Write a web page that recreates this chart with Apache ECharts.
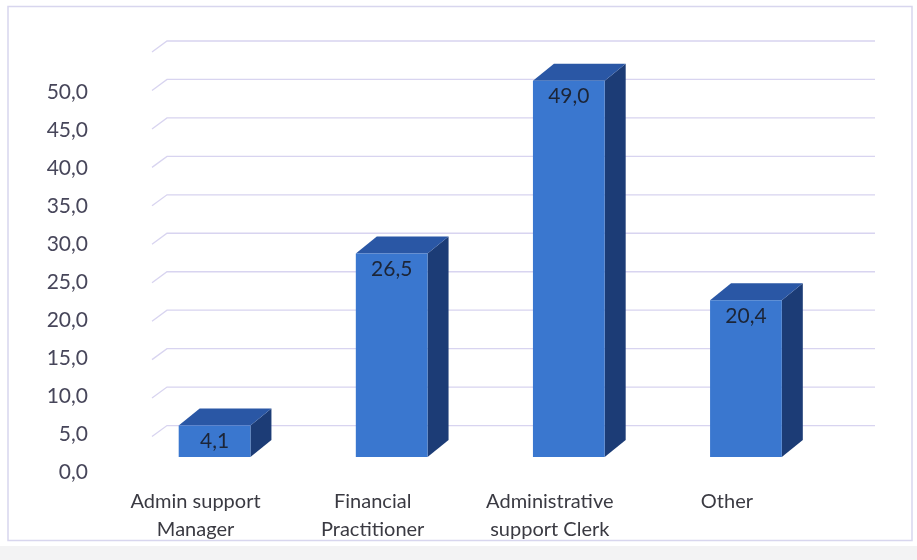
<!DOCTYPE html>
<html>
<head>
<meta charset="utf-8">
<script src="https://cdn.jsdelivr.net/npm/echarts@6/dist/echarts.min.js"></script>
<style>
  html, body { margin: 0; padding: 0; background: #ffffff; }
  #chart { width: 917px; height: 560px; }
</style>
</head>
<body>
<div id="chart"></div>
<script>
// Job categories and their shares (%)
const categories = ['Admin support\nManager', 'Financial\nPractitioner', 'Administrative\nsupport Clerk', 'Other'];
const shares = [4.1, 26.5, 49.0, 20.4];

// Back-wall gridline values and the value-axis tick labels
const wallTicks = [5, 10, 15, 20, 25, 30, 35, 40, 45, 50, 55];
const tickLabels = ['0,0', '5,0', '10,0', '15,0', '20,0', '25,0', '30,0', '35,0', '40,0', '45,0', '50,0'];

const FONT = 'Lato, "Open Sans", sans-serif';
const fmt = v => v.toFixed(1).replace('.', ',');

// 3D extrusion offsets
const DEPTH_X = 21, DEPTH_Y = -17;
const WALL_X = 15, WALL_Y = -11;

const chart = echarts.init(document.getElementById('chart'), null, { renderer: 'canvas' });

const option = {
  animation: false,
  backgroundColor: '#ffffff',
  grid: [
    // back wall
    { left: 167, right: 42, top: 41, bottom: 96 },
    // value-axis labels
    { left: 100, right: 780, top: 92, bottom: 88 },
    // bars (front plane)
    { left: 126, right: 82.5, top: 34.6, bottom: 103 }
  ],
  xAxis: [
    { gridIndex: 0, type: 'value', min: 0, max: 1, show: false },
    { gridIndex: 1, type: 'value', min: 0, max: 1, show: false },
    {
      gridIndex: 2, type: 'category', data: categories,
      axisLine: { show: false }, axisTick: { show: false },
      axisLabel: {
        margin: 31, fontSize: 20, lineHeight: 28, color: '#3a3a42',
        fontFamily: FONT, padding: [0, 38, 0, 0], interval: 0
      }
    }
  ],
  yAxis: [
    { gridIndex: 0, type: 'value', min: 0, max: 55, interval: 5, show: false },
    {
      gridIndex: 1, type: 'category', data: tickLabels, boundaryGap: false,
      axisLine: { show: false }, axisTick: { show: false }, splitLine: { show: false },
      axisLabel: { margin: 12, fontSize: 21, color: '#47465a', fontFamily: FONT }
    },
    { gridIndex: 2, type: 'value', min: 0, max: 55, interval: 5, show: false }
  ],
  graphic: [
    { type: 'rect', z: -10, shape: { x: 0, y: 546, width: 917, height: 14 }, style: { fill: '#f3f3f4' } },
    { type: 'rect', z: -9, shape: { x: 8, y: 6.5, width: 904, height: 534 }, style: { fill: null, stroke: '#d8d6ee', lineWidth: 1.5 } }
  ],
  series: [
    {
      type: 'custom', xAxisIndex: 0, yAxisIndex: 0, silent: true,
      data: wallTicks.map(v => [0, v]),
      renderItem: (params, api) => {
        const v = api.value(1);
        const a = api.coord([0, v]);
        const b = api.coord([1, v]);
        return {
          type: 'polyline',
          shape: { points: [[a[0] - WALL_X, a[1] - WALL_Y], a, b] },
          style: { stroke: '#d8d4f0', lineWidth: 1.3, fill: null }
        };
      }
    },
    {
      type: 'custom', xAxisIndex: 2, yAxisIndex: 2, silent: true,
      data: shares.map((v, i) => [i, v]),
      renderItem: (params, api) => {
        const i = api.value(0), v = api.value(1);
        const top = api.coord([i, v]);
        const base = api.coord([i, 0]);
        const w = api.size([1, 0])[0] * 0.405;
        const x0 = top[0] - w / 2, x1 = top[0] + w / 2;
        const yt = top[1], yb = base[1];
        return {
          type: 'group',
          children: [
            { type: 'polygon', shape: { points: [[x1, yt], [x1 + DEPTH_X, yt + DEPTH_Y], [x1 + DEPTH_X, yb + DEPTH_Y], [x1, yb]] }, style: { fill: '#1c3c76' } },
            { type: 'polygon', shape: { points: [[x0, yt], [x0 + DEPTH_X, yt + DEPTH_Y], [x1 + DEPTH_X, yt + DEPTH_Y], [x1, yt]] }, style: { fill: '#2a57a5' } },
            { type: 'rect', shape: { x: x0, y: yt, width: w, height: yb - yt }, style: { fill: '#3a77cf' } },
            { type: 'text', style: { text: fmt(v), x: top[0], y: yt + 16, align: 'center', verticalAlign: 'middle', fill: '#1c2537', font: '21px ' + FONT } }
          ]
        };
      }
    }
  ]
};

chart.setOption(option);
</script>
</body>
</html>
